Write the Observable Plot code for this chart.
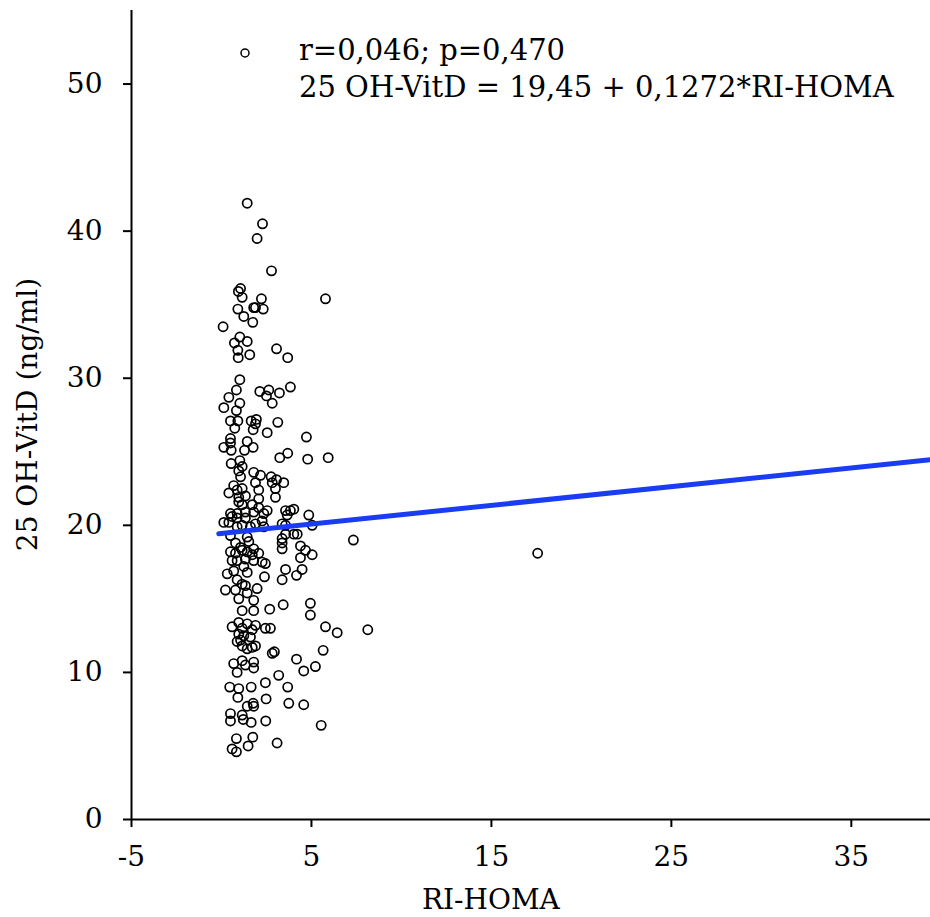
<!DOCTYPE html>
<html><head><meta charset="utf-8">
<script src="https://cdn.jsdelivr.net/npm/d3@7"></script>
<script src="https://cdn.jsdelivr.net/npm/@observablehq/plot@0.6"></script>
<style>body{margin:0;background:#fff}</style>
</head><body><div id="chart"></div>
<script>
// RI-HOMA values
const xs = [
1.43,2.28,1.98,2.78,1.06,0.94,1.15,2.22,5.78,0.91,
1.79,1.89,2.32,1.24,1.74,0.09,1.02,1.43,0.72,0.91,
1.57,0.93,3.06,3.68,1.02,0.83,2.13,2.63,2.5,3.22,
3.83,0.41,1.02,0.83,0.13,2.82,0.5,0.91,0.74,1.65,
1.94,1.89,1.76,3.13,2.54,4.72,0.5,0.5,0.13,0.54,
1.43,1.28,1.76,3.24,3.68,4.79,5.93,0.54,1.02,1.15,
0.96,1.06,1.79,2.17,2.76,3.06,0.68,0.87,1.15,1.89,
2.82,3.46,3.0,3.0,2.07,2.07,0.41,0.96,1.33,0.96,
1.15,1.71,2.07,2.54,2.35,1.79,1.33,0.87,0.5,0.59,
0.13,0.41,0.87,1.33,1.15,0.87,1.89,2.26,1.61,2.35,
3.56,3.83,4.02,3.65,3.37,3.56,4.21,4.02,3.56,3.37,
3.37,3.37,4.85,5.04,4.39,4.67,4.39,5.04,0.5,0.78,
1.43,1.52,1.06,0.5,0.78,1.15,1.43,1.79,1.71,2.07,
0.59,0.87,1.33,1.79,2.26,2.44,1.24,1.43,0.32,0.68,
0.87,1.15,1.33,0.22,0.78,1.43,1.98,0.96,1.79,2.39,
3.56,3.37,4.17,4.48,1.15,1.79,2.68,3.43,4.94,4.94,
0.59,0.96,1.15,1.43,1.89,1.71,2.44,2.72,0.96,1.24,
1.61,0.87,1.15,1.43,1.71,1.89,1.06,5.78,6.43,8.13,
2.82,2.94,5.65,0.68,0.87,1.15,1.33,1.79,1.79,4.17,
4.57,5.22,3.18,0.46,0.96,1.65,2.44,3.68,0.91,1.43,
1.76,1.79,2.48,3.74,4.57,0.5,0.5,1.15,1.21,1.65,
2.46,5.54,0.83,0.59,0.83,1.48,1.74,3.09,7.33,17.57
];
// 25 OH-VitD values (ng/ml)
const ys = [
41.9,40.5,39.5,37.3,36.1,35.9,35.5,35.4,35.4,34.7,
34.8,34.8,34.7,34.2,33.8,33.5,32.8,32.5,32.4,31.9,
31.6,31.4,32.0,31.4,29.9,29.2,29.1,29.2,28.8,29.0,
29.4,28.7,28.3,27.8,28.0,28.3,27.1,27.1,26.6,27.1,
27.2,26.9,26.5,27.0,26.3,26.0,25.9,25.6,25.3,25.1,
25.7,25.1,25.3,24.6,24.9,24.5,24.6,24.2,24.4,24.0,
23.7,23.3,23.6,23.4,23.3,23.1,22.7,22.4,22.5,22.9,
22.9,22.9,22.5,21.9,22.4,21.8,22.2,21.9,22.0,21.6,
21.4,21.4,21.2,21.0,20.8,20.9,20.9,20.8,20.8,20.6,
20.2,20.2,20.5,20.5,20.0,19.9,20.1,20.3,19.9,19.9,
21.0,21.0,21.1,20.7,20.1,20.0,19.4,19.4,19.4,19.1,
18.8,18.4,20.7,20.0,18.6,18.3,17.8,18.0,19.3,18.8,
19.2,18.9,18.5,18.2,18.1,18.3,18.2,18.4,18.0,18.1,
17.6,17.6,17.7,17.6,17.5,17.4,17.2,16.8,16.7,16.9,
16.3,16.0,15.9,15.6,15.6,15.4,15.7,15.0,14.9,16.5,
17.0,16.3,16.6,17.0,14.2,14.2,14.3,14.6,14.7,13.9,
13.1,13.4,13.0,13.3,13.2,12.9,13.0,13.0,12.6,12.5,
12.4,12.1,11.8,11.6,11.7,11.8,12.2,13.1,12.7,12.9,
11.3,11.4,11.5,10.6,10.0,10.8,10.5,10.7,10.3,10.9,
10.1,10.4,9.8,9.0,8.9,9.0,9.3,9.0,8.3,7.7,
7.9,7.7,8.2,7.9,7.8,7.2,6.7,7.1,6.8,6.6,
6.7,6.4,5.5,4.8,4.6,5.0,5.6,5.2,19.0,18.1
];
const xTicks = [-5, 5, 15, 25, 35];
const yTicks = [0, 10, 20, 30, 40, 50];
const xDomain = [-5, 39.4];
const yDomain = [0, 55];
const intercept = 19.45, slope = 0.1272;
const lineX = [-0.15, 39.4];
const statsText = "r=0,046; p=0,470";
const eqText = "25 OH-VitD = 19,45 + 0,1272*RI-HOMA";
const xLabel = "RI-HOMA";
const yLabel = "25 OH-VitD (ng/ml)";

const points = xs.map((x, i) => ({x, y: ys[i]}));
const fit = lineX.map(x => ({x, y: intercept + slope * x}));

const font = "DejaVu Serif";
const chart = Plot.plot({
  width: 930, height: 917,
  marginLeft: 131, marginRight: 0, marginTop: 10, marginBottom: 98,
  x: {domain: xDomain},
  y: {domain: yDomain},
  style: {fontFamily: font, fontSize: "28px", background: "white", color: "black", overflow: "visible"},
  marks: [
    Plot.dot(points, {x: "x", y: "y", r: 4.6, stroke: "black", strokeWidth: 1.7, fill: "none"}),
    Plot.line(fit, {x: "x", y: "y", stroke: "#1a3cf2", strokeWidth: 5}),
    Plot.ruleY([yDomain[0]], {stroke: "black", strokeWidth: 2}),
    Plot.ruleX([xDomain[0]], {stroke: "black", strokeWidth: 2}),
    Plot.axisX({ticks: xTicks, tickFormat: d => String(d), tickSize: 8, tickPadding: 19, strokeWidth: 2, label: null, fontSize: 28}),
    Plot.axisY({ticks: yTicks, tickFormat: d => String(d), tickSize: 8, tickPadding: 21, strokeWidth: 2, label: null, fontSize: 28})
  ]
});
document.getElementById("chart").appendChild(chart);

const svg = d3.select(chart);
const sx = chart.scale("x"), sy = chart.scale("y");
// legend symbol and annotations
svg.append("circle").attr("cx", 245).attr("cy", 53).attr("r", 4)
  .attr("fill", "none").attr("stroke", "black").attr("stroke-width", 1.5);
svg.append("text").attr("x", 299).attr("y", 60).attr("text-anchor", "start")
  .attr("font-family", font).attr("font-size", 29).text(statsText);
svg.append("text").attr("x", 299).attr("y", 97).attr("text-anchor", "start")
  .attr("font-family", font).attr("font-size", 29).text(eqText);
// axis labels
svg.append("text").attr("x", sx.apply(15)).attr("y", 909).attr("text-anchor", "middle")
  .attr("font-family", font).attr("font-size", 28).text(xLabel);
svg.append("text").attr("transform", `translate(37,${(sy.apply(0) + sy.apply(55)) / 2}) rotate(-90)`)
  .attr("text-anchor", "middle").attr("font-family", font).attr("font-size", 28).text(yLabel);
</script>
</body></html>
